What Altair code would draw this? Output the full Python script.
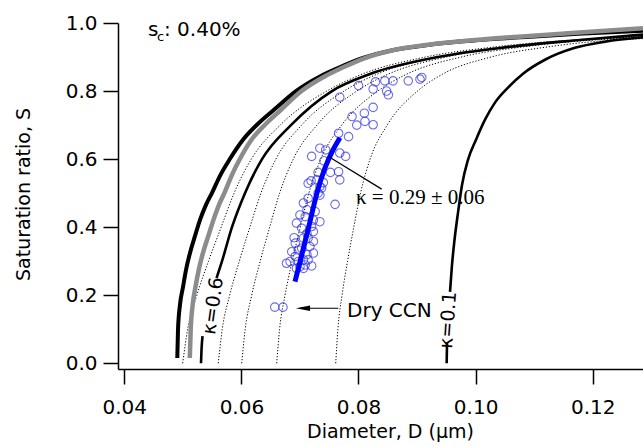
import altair as alt
import pandas as pd

# ---- curves: saturation ratio S against wet diameter D (um) ----
# thick black curve
C1_S = [0.0156, 0.098, 0.172, 0.2244, 0.2744, 0.3244, 0.3744, 0.4215, 0.4656, 0.5009,
        0.5538, 0.6009, 0.6568, 0.7009, 0.7450, 0.8, 0.8429, 0.8676, 0.8971, 0.9215,
        0.9362, 0.95, 0.9597, 0.9685, 0.9774]
C1_D = [0.04905, 0.04917, 0.04951, 0.05003, 0.05054, 0.05122, 0.05208, 0.05293, 0.05395,
        0.05498, 0.05643, 0.05805, 0.06027, 0.06266, 0.06556, 0.06933, 0.07342, 0.07650,
        0.08077, 0.08624, 0.09221, 0.10075, 0.10929, 0.11749, 0.12859]
# thick grey curve
C3_S = [0.0156, 0.098, 0.172, 0.2244, 0.2744, 0.3244, 0.3744, 0.4215, 0.4656, 0.5009,
        0.5538, 0.6009, 0.6568, 0.7009, 0.7450, 0.8, 0.8429, 0.8676, 0.8971, 0.9215,
        0.9362, 0.95, 0.9606, 0.97, 0.9847]
C3_D = [0.05119, 0.05134, 0.05168, 0.05216, 0.05271, 0.05344, 0.05435, 0.05523, 0.05617,
        0.05711, 0.05839, 0.05976, 0.06172, 0.06403, 0.06676, 0.07027, 0.07419, 0.07710,
        0.08111, 0.08623, 0.09187, 0.09990, 0.10793, 0.11578, 0.12859]
# kappa = 0.6 (split where its label sits)
K06_S_LOW = [0.0, 0.04, 0.08]
K06_D_LOW = [0.05310, 0.05319, 0.05336]
K06_S_HIGH = [0.25, 0.3, 0.4, 0.5, 0.6, 0.7, 0.8, 0.85, 0.9, 0.93, 0.95, 0.966]
K06_D_HIGH = [0.05575, 0.05669, 0.05839, 0.06061, 0.06352, 0.06847, 0.07547, 0.08196,
              0.09358, 0.10587, 0.11783, 0.1286]
# kappa = 0.1 (split where its label sits)
K01_S_LOW = [0.0, 0.06]
K01_D_LOW = [0.09506, 0.09512]
K01_S_HIGH = [0.21, 0.289, 0.363, 0.442, 0.524, 0.598, 0.657, 0.716, 0.766, 0.810, 0.851,
              0.892, 0.927, 0.945, 0.958]
K01_D_HIGH = [0.09563, 0.09597, 0.0964, 0.09699, 0.09768, 0.0987, 0.10007, 0.10161, 0.10331,
              0.10553, 0.1081, 0.11185, 0.11698, 0.1221, 0.1286]

# dotted curves
DOT_S = [0.0, 0.1, 0.2, 0.3, 0.4, 0.5, 0.6, 0.7, 0.8, 0.85, 0.9, 0.93, 0.95]
DOT_A_D = [0.04997, 0.05082, 0.05239, 0.05438, 0.05654, 0.05875, 0.06169, 0.06663, 0.07458,
           0.08066, 0.09145, 0.10338, 0.11635]
DOT_A_END = 0.962
DOT_B_D = [0.05605, 0.05673, 0.05800, 0.05964, 0.06145, 0.06334, 0.06589, 0.07028, 0.07753,
           0.08321, 0.09345, 0.10496, 0.11759]
DOT_B_END = 0.960
DOT_C_D = [0.06005, 0.06065, 0.06176, 0.06321, 0.06483, 0.06653, 0.06886, 0.07291, 0.07971,
           0.08511, 0.09497, 0.10616, 0.11856]
DOT_C_END = 0.958
DOT_D_D = [0.06603, 0.06652, 0.06745, 0.06867, 0.07006, 0.07152, 0.07355, 0.07713, 0.08330,
           0.08828, 0.09754, 0.10823, 0.12023]
DOT_D_END = 0.956
DOT_E_D = [0.07611, 0.07648, 0.07719, 0.07813, 0.07920, 0.08035, 0.08198, 0.08490, 0.09008,
           0.09439, 0.10263, 0.11242, 0.12366]
DOT_E_END = 0.954
D_EDGE = 0.1286

# fitted kappa curve through the measurements
FIT_S = [0.24, 0.333, 0.416, 0.501, 0.574, 0.627, 0.663]
FIT_D = [0.06915, 0.07052, 0.07171, 0.07291, 0.07428, 0.07565, 0.07684]

# measured particles
OBS_D = [0.0800, 0.0829, 0.0845, 0.0859, 0.0885, 0.0905, 0.0908, 0.0825, 0.0848, 0.0851,
         0.0768, 0.0825, 0.0810, 0.0789, 0.0811, 0.0797, 0.0825, 0.0766, 0.0783, 0.0734,
         0.0744, 0.0720, 0.0768, 0.0778, 0.0741, 0.0731, 0.0752, 0.0766, 0.0768, 0.0719,
         0.0729, 0.0740, 0.0734, 0.0760, 0.0714, 0.0737, 0.0706, 0.0714, 0.0731, 0.0734,
         0.0712, 0.0726, 0.0709, 0.0723, 0.0734, 0.0700, 0.0694, 0.0720, 0.0703, 0.0723,
         0.0712, 0.0714, 0.0706, 0.0690, 0.0692, 0.0723, 0.0717, 0.0703, 0.0697, 0.0723,
         0.0712, 0.0686, 0.0692, 0.0683, 0.0677, 0.0697, 0.0706, 0.0714, 0.0709, 0.0720,
         0.0700, 0.0694, 0.0706, 0.0657, 0.0671]
OBS_S = [0.816, 0.827, 0.830, 0.830, 0.830, 0.835, 0.840, 0.806, 0.800, 0.789,
         0.782, 0.752, 0.735, 0.725, 0.711, 0.700, 0.701, 0.676, 0.666, 0.632,
         0.627, 0.608, 0.618, 0.608, 0.595, 0.561, 0.561, 0.563, 0.539, 0.536,
         0.539, 0.531, 0.519, 0.467, 0.529, 0.515, 0.471, 0.485, 0.500, 0.494,
         0.451, 0.446, 0.431, 0.421, 0.416, 0.436, 0.412, 0.402, 0.397, 0.387,
         0.382, 0.368, 0.368, 0.369, 0.353, 0.358, 0.343, 0.338, 0.333, 0.324,
         0.319, 0.328, 0.314, 0.299, 0.294, 0.299, 0.304, 0.304, 0.289, 0.286,
         0.284, 0.279, 0.279, 0.165, 0.165]

FONT = "DejaVu Sans"
X_DOMAIN = [0.038924, 0.128591]
Y_DOMAIN = [-0.0168, 1.0]


def curve_rows(name, d_vals, s_vals):
    return [{"curve": name, "i": i, "D": d, "S": s} for i, (d, s) in enumerate(zip(d_vals, s_vals))]


thick_black = pd.DataFrame(curve_rows("c1", C1_D, C1_S))
thick_grey = pd.DataFrame(curve_rows("c3", C3_D, C3_S))
solid = pd.DataFrame(
    curve_rows("k06a", K06_D_LOW, K06_S_LOW)
    + curve_rows("k06b", K06_D_HIGH, K06_S_HIGH)
    + curve_rows("k01a", K01_D_LOW, K01_S_LOW)
    + curve_rows("k01b", K01_D_HIGH, K01_S_HIGH)
)
dotted_rows = []
for name, dv, end in [("a", DOT_A_D, DOT_A_END), ("b", DOT_B_D, DOT_B_END),
                      ("c", DOT_C_D, DOT_C_END), ("d", DOT_D_D, DOT_D_END),
                      ("e", DOT_E_D, DOT_E_END)]:
    dotted_rows += curve_rows(name, dv + [D_EDGE], DOT_S + [end])
dotted = pd.DataFrame(dotted_rows)
fit = pd.DataFrame(curve_rows("fit", FIT_D, FIT_S))
obs = pd.DataFrame({"D": OBS_D, "S": OBS_S})

x_enc = alt.X(
    "D:Q",
    scale=alt.Scale(domain=X_DOMAIN, nice=False, zero=False),
    axis=alt.Axis(
        values=[0.04, 0.06, 0.08, 0.10, 0.12], format=".2f", title="Diameter, D (μm)",
        grid=False, tickSize=15, tickWidth=1.5, tickColor="black", domainColor="black",
        domainWidth=1.5, labelFont=FONT, labelFontSize=20, labelColor="black",
        labelPadding=13, titleFont=FONT, titleFontSize=19, titleFontWeight="normal",
        titleColor="black", titleX=272, titleY=68, titleAlign="center",
        titleBaseline="alphabetic",
    ),
)
y_enc = alt.Y(
    "S:Q",
    scale=alt.Scale(domain=Y_DOMAIN, nice=False, zero=False),
    axis=alt.Axis(
        values=[0.0, 0.2, 0.4, 0.6, 0.8, 1.0], format=".1f", title="Saturation ratio, S",
        grid=False, tickSize=15, tickWidth=1.5, tickColor="black", domainColor="black",
        domainWidth=1.5, labelFont=FONT, labelFontSize=20, labelColor="black",
        labelPadding=6, titleFont=FONT, titleFontSize=19, titleFontWeight="normal",
        titleColor="black", titleX=-89, titleY=171, titleAlign="center",
        titleBaseline="alphabetic", titleAngle=270,
    ),
)


def lines(df, **style):
    return alt.Chart(df).mark_line(interpolate="monotone", clip=True, **style).encode(
        x=x_enc, y=y_enc, detail="curve:N", order="i:Q"
    )


layer_dotted = lines(dotted, color="black", strokeWidth=1, strokeDash=[1.2, 1.8])
layer_grey = lines(thick_grey, color="#8c8c8c", strokeWidth=4.5)
layer_black = lines(thick_black, color="black", strokeWidth=4)
layer_solid = lines(solid, color="black", strokeWidth=2.6)

layer_obs = alt.Chart(obs).mark_point(
    shape="circle", filled=False, size=72, color="#3030e0", strokeWidth=1.1, clip=True
).encode(x=x_enc, y=y_enc)

layer_fit = lines(fit, color="#0000ff", strokeWidth=5)

# annotations
ann_text = pd.DataFrame({
    "D": [0.04405, 0.04678, 0.07804],
    "S": [0.9626, 0.9626, 0.136],
    "t": ["s", ": 0.40%", "Dry CCN"],
})
layer_text = alt.Chart(ann_text).mark_text(
    align="left", baseline="alphabetic", font=FONT, fontSize=20, color="black"
).encode(x=x_enc, y=y_enc, text="t:N")

sub_c = pd.DataFrame({"D": [0.04558], "S": [0.946], "t": ["c"]})
layer_sub = alt.Chart(sub_c).mark_text(
    align="left", baseline="alphabetic", font=FONT, fontSize=13, color="black"
).encode(x=x_enc, y=y_enc, text="t:N")

kappa_fit = pd.DataFrame({"D": [0.07957], "S": [0.4685], "t": ["κ = 0.29 ± 0.06"]})
layer_kfit = alt.Chart(kappa_fit).mark_text(
    align="left", baseline="alphabetic", font="Liberation Serif", fontSize=21, color="black"
).encode(x=x_enc, y=y_enc, text="t:N")

k06 = pd.DataFrame({"D": [0.05515], "S": [0.1685], "t": ["κ=0.6"]})
layer_k06 = alt.Chart(k06).mark_text(
    align="center", baseline="middle", font=FONT, fontSize=19, angle=278, color="black"
).encode(x=x_enc, y=y_enc, text="t:N")

k01 = pd.DataFrame({"D": [0.09529], "S": [0.127], "t": ["κ=0.1"]})
layer_k01 = alt.Chart(k01).mark_text(
    align="center", baseline="middle", font=FONT, fontSize=19, angle=274, color="black"
).encode(x=x_enc, y=y_enc, text="t:N")

leaders = pd.DataFrame({
    "curve": ["lead", "lead", "arrow", "arrow"],
    "i": [0, 1, 0, 1],
    "D": [0.07501, 0.08396, 0.07001, 0.07655],
    "S": [0.6059, 0.5118, 0.1618, 0.1618],
})
layer_leaders = alt.Chart(leaders).mark_line(color="black", strokeWidth=1.2).encode(
    x=x_enc, y=y_enc, detail="curve:N", order="i:Q"
)
head = pd.DataFrame({"D": [0.07052], "S": [0.1618]})
layer_head = alt.Chart(head).mark_point(
    shape="M-1,0L1,-0.38L1,0.38Z", size=200, filled=True, color="black", opacity=1
).encode(x=x_enc, y=y_enc)

chart = alt.layer(
    layer_dotted, layer_black, layer_grey, layer_solid, layer_obs, layer_fit,
    layer_leaders, layer_head, layer_text, layer_sub, layer_kfit, layer_k06, layer_k01,
).properties(
    width=525, height=346,
    padding={"left": 118, "top": 23, "right": 0, "bottom": 77},
    autosize=alt.AutoSizeParams(type="none"),
    background="white",
).configure_view(stroke=None)

chart.save("out.html", embed_options={"renderer": "svg", "actions": False})
